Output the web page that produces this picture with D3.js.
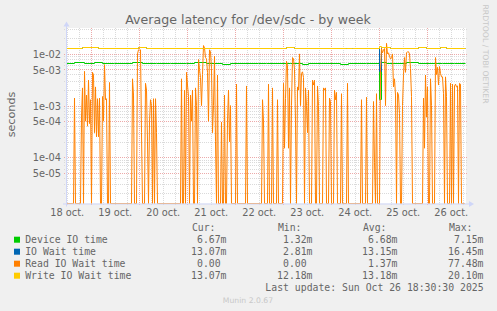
<!DOCTYPE html>
<html>
<head>
<meta charset="utf-8">
<script src="https://cdn.jsdelivr.net/npm/d3@7"></script>
<style>
  body { margin: 0; background: #f0f0f0; }
  svg text { font-family: "DejaVu Sans", sans-serif; }
  .mono { font-family: "DejaVu Sans Mono", monospace; }
</style>
</head>
<body>
<div id="chart"></div>
<script>
var w = 497,
    h = 311;

var plotLeft = 66, plotRight = 466, plotTop = 28, plotBottom = 203.5;

var palette = {
    back: '#f0f0f0',
    font: '#666666',
    axis: '#cfd6f8',
    grid: '#dadada',
    mgrid: '#ecaaaa',
    mark: '#c8c8c8'
};

// week graph: 200 hours, read IO sampled every 30 min
var startTime = new Date(2025, 9, 18, 11, 40);
var spanHours = 200;

var dayLabels = ['18 oct.', '19 oct.', '20 oct.', '21 oct.', '22 oct.', '23 oct.', '24 oct.', '25 oct.', '26 oct.'];
var yTickValues = [1e-2, 5e-3, 1e-3, 5e-4, 1e-4, 5e-5];

var seriesNames = ['Device IO time', 'IO Wait time', 'Read IO Wait time', 'Write IO Wait time'];
var seriesColors = ['#00cc00', '#0066b3', '#ff8000', '#ffcc00'];
var curVals = [6.67, 13.07, 0, 13.07];
var minVals = [1.32, 2.81, 0, 12.18];
var avgVals = [6.68, 13.15, 1.37, 13.18];
var maxVals = [7.15, 16.45, 77.48, 20.10];

// [hour, ms] step points
var deviceTime = [[0, 6.7], [4, 6.9], [9, 6.7], [14, 6.9], [18, 6.6], [24, 6.7], [33, 6.9], [38, 6.7],
    [45, 6.6], [52, 6.7], [60, 6.6], [64, 6.9], [70, 6.7], [78, 6.5], [82, 6.7], [96, 6.6], [100, 6.8],
    [112, 6.7], [118, 6.4], [121, 6.7], [137, 6.5], [141, 6.7], [150, 6.6], [156.5, 1.32], [157.5, 6.9],
    [160, 6.7], [170, 6.9], [176, 6.7], [188, 6.8], [194, 6.67], [199.5, 6.67]];

var ioWait = [[0, 13.0], [8, 13.5], [16, 13.0], [36, 13.5], [40, 13.0], [68, 13.3], [72, 13.0], [110, 13.4],
    [114, 13.0], [140, 13.3], [143, 13.0], [156.5, 4.6], [157.5, 13.6], [162, 13.0], [176, 13.4], [180, 13.0],
    [187, 13.4], [190, 13.0], [199.5, 13.07]];

var writeWait = [[0, 13.0], [8, 13.5], [16, 13.0], [36, 13.5], [40, 13.0], [68, 13.3], [72, 13.0], [110, 13.4],
    [114, 13.0], [140, 13.3], [143, 13.0], [156.5, 14.5], [157.5, 13.6], [162, 13.0], [176, 13.4], [180, 13.0],
    [187, 13.4], [190, 13.0], [199.5, 13.07]];

var readWait = [
    0, 0, 0, 0, 0, 0, 0, 0, 1.4, 0,
    0, 0, 0, 0, 0, 0.6, 2.2, 0, 4.6, 0.5,
    1.6, 0.4, 3.1, 0.45, 1.3, 0, 4.4, 3.9, 0.3, 2.3,
    0.25, 1.36, 0.25, 1.4, 0, 0, 1.5, 0.5, 6.2, 1.3,
    1.36, 0, 0, 2.8, 0, 0, 0, 0, 0, 0,
    0, 0, 0, 0, 0, 0, 0, 0, 0, 0,
    0, 0, 0, 0, 0, 0, 3.3, 1.6, 0, 0,
    0, 10, 12, 12.5, 12, 0.3, 0, 0, 0, 2.7,
    2, 0.2, 0, 0.5, 1.3, 1, 0, 1.36, 0, 1.36,
    0.3, 0, 0, 0, 0, 0, 0, 0, 0, 0,
    0, 0, 0, 0, 0, 0, 0, 0, 0, 0,
    0, 0, 0, 0, 0, 3.3, 0, 0, 2, 0,
    4.4, 2.5, 1.5, 0, 1.6, 0.5, 2, 0, 0, 2.2,
    1, 0, 7.8, 5, 3.5, 1, 4, 14.5, 13, 8.5,
    8, 4.4, 0.5, 12, 11, 5.2, 0.3, 1, 9, 0.2,
    0, 3.9, 0, 0, 0, 0.48, 0, 0, 1.6, 0,
    0, 0.5, 2, 0.2, 1, 0, 0, 0, 0, 0,
    2.6, 0, 0, 0, 0, 0, 0, 0, 0, 0,
    2.4, 0, 0, 0, 0, 0, 0, 0, 0, 0,
    0, 0, 0, 0, 0, 0, 1.3, 0.5, 0, 0,
    0, 0, 2.6, 0, 0, 0, 2.2, 0, 0, 0,
    0, 1.3, 0, 0, 0, 0, 0, 2.7, 0.15, 1.36,
    7.2, 6, 0.15, 2.2, 0, 1, 8.5, 8, 5, 0.5,
    0, 2.3, 2, 10, 1, 4.2, 4.5, 3.5, 0, 2.2,
    1, 0.3, 2, 0, 0, 0, 3.1, 2.5, 3.1, 0,
    0, 2.4, 1, 0, 0, 0, 0, 2.2, 2, 2.2,
    0, 0, 0, 1.4, 1.2, 0, 0, 0, 2, 1.3,
    1.8, 0, 0, 0, 0, 1.7, 0, 0, 0, 0,
    0, 2.7, 0, 0, 0, 0, 0, 0, 0, 0,
    0, 0, 0, 0, 0, 1.3, 0, 0, 0, 0,
    1.45, 0, 0, 0, 0, 0, 0, 1.2, 0.08, 0,
    1.7, 0, 0, 0, 5, 12.7, 10.5, 12, 12.7, 1,
    16, 10, 10.5, 9, 8, 8.5, 10, 2.3, 3.3, 1.6,
    0, 1.8, 1.6, 0.7, 0, 0, 1, 4, 8.5, 4.4,
    10.5, 11, 11, 10, 5.2, 1.5, 0, 0, 0, 0,
    0, 0, 0, 0, 0, 0, 0, 1.4, 0.15, 3.9,
    0.6, 2.3, 0, 0, 3.3, 1, 0, 0, 0, 8.5,
    4, 5.5, 2.5, 5.7, 4.2, 3.6, 3.6, 1.7, 0, 3.6,
    1.5, 0, 0, 0, 2.7, 0, 2.6, 0, 2.4, 2.6,
    2.3, 2.4, 0, 2.7, 2.6, 0, 0, 0, 0
];

var x = d3.scaleTime()
    .domain([startTime, d3.timeHour.offset(startTime, spanHours)])
    .range([plotLeft, plotRight]);

var y = d3.scaleLog()
    .domain([1.28e-5, 3.17e-2])
    .range([plotBottom, plotTop]);

var yMin = y.domain()[0];
function yv(ms) { return y(Math.max(ms / 1000, yMin)); }
function hourTime(hr) { return new Date(+startTime + hr * 3600000); }

var svg = d3.select('#chart')
    .append('svg')
    .attr('width', w)
    .attr('height', h)
    .style('display', 'block');

svg.append('rect').attr('width', w).attr('height', h).attr('fill', palette.back);
svg.append('rect')
    .attr('x', plotLeft).attr('y', plotTop)
    .attr('width', plotRight - plotLeft).attr('height', plotBottom - plotTop)
    .attr('fill', '#fff');

// horizontal grid (log minor lines, red at 1 and 5)
var yGrid = [];
for (var e = -5; e <= -2; e++) {
    for (var m = 1; m <= 9; m++) {
        var v = m * Math.pow(10, e);
        if (v >= yMin && v <= y.domain()[1]) yGrid.push({ v: v, major: (m === 1 || m === 5) });
    }
}
svg.append('g').selectAll('line')
    .data(yGrid).enter().append('line')
    .attr('x1', plotLeft - 2).attr('x2', plotRight + 2)
    .attr('y1', function(d) { return Math.round(y(d.v)) + 0.5 })
    .attr('y2', function(d) { return Math.round(y(d.v)) + 0.5 })
    .attr('stroke', function(d) { return d.major ? palette.mgrid : palette.grid })
    .attr('stroke-dasharray', '1,1');

// vertical grid every 6 hours, red at midnight
var xGrid = d3.timeHour.every(6).range(x.domain()[0], x.domain()[1]);
svg.append('g').selectAll('line')
    .data(xGrid).enter().append('line')
    .attr('x1', function(d) { return Math.round(x(d)) + 0.5 })
    .attr('x2', function(d) { return Math.round(x(d)) + 0.5 })
    .attr('y1', plotTop).attr('y2', plotBottom + 2.5)
    .attr('stroke', function(d) { return d.getHours() === 0 ? palette.mgrid : palette.grid })
    .attr('stroke-dasharray', '1,1');

svg.append('clipPath').attr('id', 'clip')
    .append('rect')
    .attr('x', plotLeft).attr('y', plotTop)
    .attr('width', plotRight - plotLeft + 1).attr('height', plotBottom - plotTop + 1);

// step lines snapped to pixel centres so overlapping series stay stacked
var stepLine = d3.line()
    .x(function(d) { return Math.round(x(hourTime(d[0]))) + 0.5 })
    .y(function(d) { return Math.round(yv(d[1])) + 0.5 })
    .curve(d3.curveStepAfter);

var readLine = d3.line()
    .x(function(d, i) { return x(hourTime(i / 2)) + 0.5 })
    .y(function(d) { return yv(d) });

var lines = svg.append('g').attr('clip-path', 'url(#clip)').attr('fill', 'none').attr('stroke-width', 1);
lines.append('path').attr('d', stepLine(deviceTime)).attr('stroke', seriesColors[0]);
lines.append('path').attr('d', stepLine(ioWait)).attr('stroke', seriesColors[1]);
lines.append('path').attr('d', readLine(readWait)).attr('stroke', seriesColors[2]);
lines.append('path').attr('d', stepLine(writeWait)).attr('stroke', seriesColors[3]);

// axes lines with arrows
svg.append('line')
    .attr('x1', plotLeft - 3).attr('x2', plotRight + 3)
    .attr('y1', plotBottom + 0.5).attr('y2', plotBottom + 0.5)
    .attr('stroke', palette.axis);
svg.append('line')
    .attr('x1', plotLeft + 0.5).attr('x2', plotLeft + 0.5)
    .attr('y1', plotBottom + 3).attr('y2', plotTop - 2)
    .attr('stroke', palette.axis);
svg.append('path')
    .attr('d', 'M' + (plotRight + 3) + ',' + (plotBottom - 2.5) + 'L' + (plotRight + 8) + ',' + (plotBottom + 0.5) +
        'L' + (plotRight + 3) + ',' + (plotBottom + 3.5) + 'Z')
    .attr('fill', palette.axis);
svg.append('path')
    .attr('d', 'M' + (plotLeft - 2.5) + ',' + (plotTop - 1.5) + 'L' + (plotLeft + 0.5) + ',' + (plotTop - 6.5) +
        'L' + (plotLeft + 3.5) + ',' + (plotTop - 1.5) + 'Z')
    .attr('fill', palette.axis);

function expFormat(v) {
    var s = v.toExponential(0).split('e');
    var ex = +s[1];
    return s[0] + 'e' + (ex < 0 ? '-' : '+') + (Math.abs(ex) < 10 ? '0' : '') + Math.abs(ex);
}

var yAxis = svg.append('g')
    .attr('transform', 'translate(' + plotLeft + ',0)')
    .call(d3.axisLeft(y).tickValues(yTickValues).tickFormat(expFormat).tickSize(0).tickPadding(5));
yAxis.select('.domain').remove();
yAxis.selectAll('text')
    .attr('fill', palette.font)
    .attr('font-size', '9.8px')
    .attr('font-family', 'DejaVu Sans')
    .attr('dy', '0.36em');

var dayNoons = dayLabels.map(function(d, i) { return new Date(2025, 9, 18 + i, 12) });
var xAxis = svg.append('g')
    .attr('transform', 'translate(0,' + plotBottom + ')')
    .call(d3.axisBottom(x).tickValues(dayNoons)
        .tickFormat(function(d, i) { return dayLabels[i] })
        .tickSize(0).tickPadding(6));
xAxis.select('.domain').remove();
xAxis.selectAll('text')
    .attr('fill', palette.font)
    .attr('font-size', '9.8px')
    .attr('font-family', 'DejaVu Sans');

svg.append('text')
    .text('Average latency for /dev/sdc - by week')
    .attr('x', 248).attr('y', 23.8)
    .attr('text-anchor', 'middle')
    .attr('font-size', '12.6px')
    .attr('fill', palette.font);

svg.append('text')
    .text('seconds')
    .attr('transform', 'translate(15,114.5) rotate(-90)')
    .attr('text-anchor', 'middle')
    .attr('font-size', '11.2px')
    .attr('fill', palette.font);

svg.append('text')
    .text('RRDTOOL / TOBI OETIKER')
    .attr('transform', 'translate(483,4.5) rotate(90)')
    .attr('font-size', '7.7px')
    .attr('fill', palette.mark);

svg.append('text')
    .text('Munin 2.0.67')
    .attr('x', 248).attr('y', 303.3)
    .attr('text-anchor', 'middle')
    .attr('font-size', '7.7px')
    .attr('fill', palette.mark);

// legend
var charW = 5.9;
var cols = [226.5, 312.5, 397.5, 483.5];
var heads = ['Cur:', 'Min:', 'Avg:', 'Max:'];
var legend = svg.append('g').attr('class', 'mono').attr('font-size', '9.8px').attr('fill', palette.font);

legend.selectAll('.head')
    .data(heads).enter().append('text')
    .attr('class', 'mono head')
    .attr('x', function(d, i) { return cols[i] - 11 })
    .attr('y', 230.7)
    .attr('text-anchor', 'end')
    .text(function(d) { return d });

var rows = legend.selectAll('.row')
    .data(seriesNames).enter().append('g')
    .attr('transform', function(d, i) { return 'translate(0,' + (242.7 + i * 12) + ')' });

rows.append('rect')
    .attr('x', 14).attr('y', -6)
    .attr('width', 6).attr('height', 6)
    .attr('fill', function(d, i) { return seriesColors[i] });

rows.append('text')
    .attr('class', 'mono')
    .attr('x', 25.2)
    .text(function(d) { return d });

function fmtVal(v) { return v === 0 ? '0.00' : v.toFixed(2) + 'm'; }
[curVals, minVals, avgVals, maxVals].forEach(function(vals, c) {
    rows.append('text')
        .attr('class', 'mono')
        .attr('text-anchor', 'end')
        .attr('x', function(d, i) { return cols[c] - (vals[i] === 0 ? charW : 0) })
        .text(function(d, i) { return fmtVal(vals[i]) });
});

legend.append('text')
    .attr('class', 'mono')
    .attr('x', 483.6).attr('y', 290.7)
    .attr('text-anchor', 'end')
    .text('Last update: Sun Oct 26 18:30:30 2025');
</script>
</body>
</html>
